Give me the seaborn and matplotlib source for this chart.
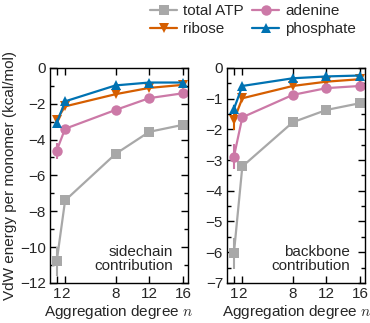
import matplotlib
matplotlib.use("Agg")
import matplotlib.pyplot as plt
import seaborn as sns
import numpy as np
from matplotlib.ticker import MultipleLocator

# aggregation degrees
n_vals = [1, 2, 8, 12, 16]

# sidechain contribution (kcal/mol)
side_total = [-10.8, -7.4, -4.8, -3.57, -3.18]
side_ribose = [-2.9, -2.15, -1.47, -1.12, -0.95]
side_adenine = [-4.62, -3.4, -2.35, -1.69, -1.42]
side_phosphate = [-3.08, -1.87, -0.98, -0.82, -0.82]
side_total_err = [0.8, 0.15, 0.05, 0.05, 0.05]
side_ribose_err = [0.2, 0.1, 0.05, 0.05, 0.05]
side_adenine_err = [0.45, 0.1, 0.05, 0.05, 0.05]
side_phosphate_err = [0.15, 0.08, 0.05, 0.05, 0.05]

# backbone contribution (kcal/mol)
back_total = [-6.03, -3.21, -1.77, -1.37, -1.15]
back_ribose = [-1.7, -0.99, -0.59, -0.45, -0.37]
back_adenine = [-2.89, -1.61, -0.88, -0.66, -0.59]
back_phosphate = [-1.34, -0.59, -0.34, -0.28, -0.25]
back_total_err = [0.5, 0.12, 0.05, 0.05, 0.05]
back_ribose_err = [0.33, 0.08, 0.03, 0.03, 0.03]
back_adenine_err = [0.4, 0.08, 0.03, 0.03, 0.03]
back_phosphate_err = [0.12, 0.05, 0.03, 0.03, 0.03]

names = ["total ATP", "ribose", "adenine", "phosphate"]
colors = ["#a8a8a8", "#d55e00", "#cc79a7", "#0072b2"]
markers = ["s", "v", "o", "^"]

sns.set_theme(style="ticks")
plt.rcParams["font.family"] = ["Liberation Sans", "DejaVu Sans"]
plt.rcParams["mathtext.fontset"] = "cm"
fs = 11

fig = plt.figure(figsize=(3.7, 3.23), dpi=100)
ax1 = fig.add_axes([0.135, 0.124, 0.373, 0.666])
ax2 = fig.add_axes([0.614, 0.124, 0.373, 0.666])

panels = [
    (ax1, [side_total, side_ribose, side_adenine, side_phosphate],
     [side_total_err, side_ribose_err, side_adenine_err, side_phosphate_err],
     "sidechain\ncontribution", (-12, 0), 2, 1),
    (ax2, [back_total, back_ribose, back_adenine, back_phosphate],
     [back_total_err, back_ribose_err, back_adenine_err, back_phosphate_err],
     "backbone\ncontribution", (-7, 0), 1, 0.5),
]

for ax, series, errs, label, ylim, major, minor in panels:
    for name, vals, err, c, m in zip(names, series, errs, colors, markers):
        ax.errorbar(n_vals, vals, yerr=err, fmt="none", ecolor=c, elinewidth=1.5, capsize=0)
        sns.lineplot(x=n_vals, y=vals, ax=ax, color=c, marker=m, markersize=7.5,
                     markeredgewidth=0, linewidth=1.6, label=name, legend=False)
    ax.set_xlim(0.2, 16.6)
    ax.set_ylim(*ylim)
    ax.set_xticks(n_vals)
    ax.yaxis.set_major_locator(MultipleLocator(major))
    ax.yaxis.set_minor_locator(MultipleLocator(minor))
    ax.tick_params(which="both", direction="in", top=True, right=True, labelsize=fs,
                   color="black", width=1, pad=3)
    ax.tick_params(which="major", length=5)
    ax.tick_params(which="minor", length=3)
    for s in ax.spines.values():
        s.set_linewidth(1)
        s.set_color("black")
    ax.set_xlabel("Aggregation degree $n$", fontsize=fs, labelpad=1)
    ax.text(0.89, 0.045, label, transform=ax.transAxes, ha="right", va="bottom",
            multialignment="right", fontsize=fs, linespacing=1.0)

ax1.set_ylabel("VdW energy per monomer (kcal/mol)", fontsize=fs, labelpad=2)
ax2.set_ylabel("")

handles, labels = ax1.get_legend_handles_labels()
fig.legend(handles, labels, loc="upper right", bbox_to_anchor=(1.0, 1.03), ncol=2,
           frameon=False, fontsize=fs, handlelength=1.8, columnspacing=0.5,
           handletextpad=0.4, labelspacing=0.25)

fig.savefig("out.png", dpi=100)
